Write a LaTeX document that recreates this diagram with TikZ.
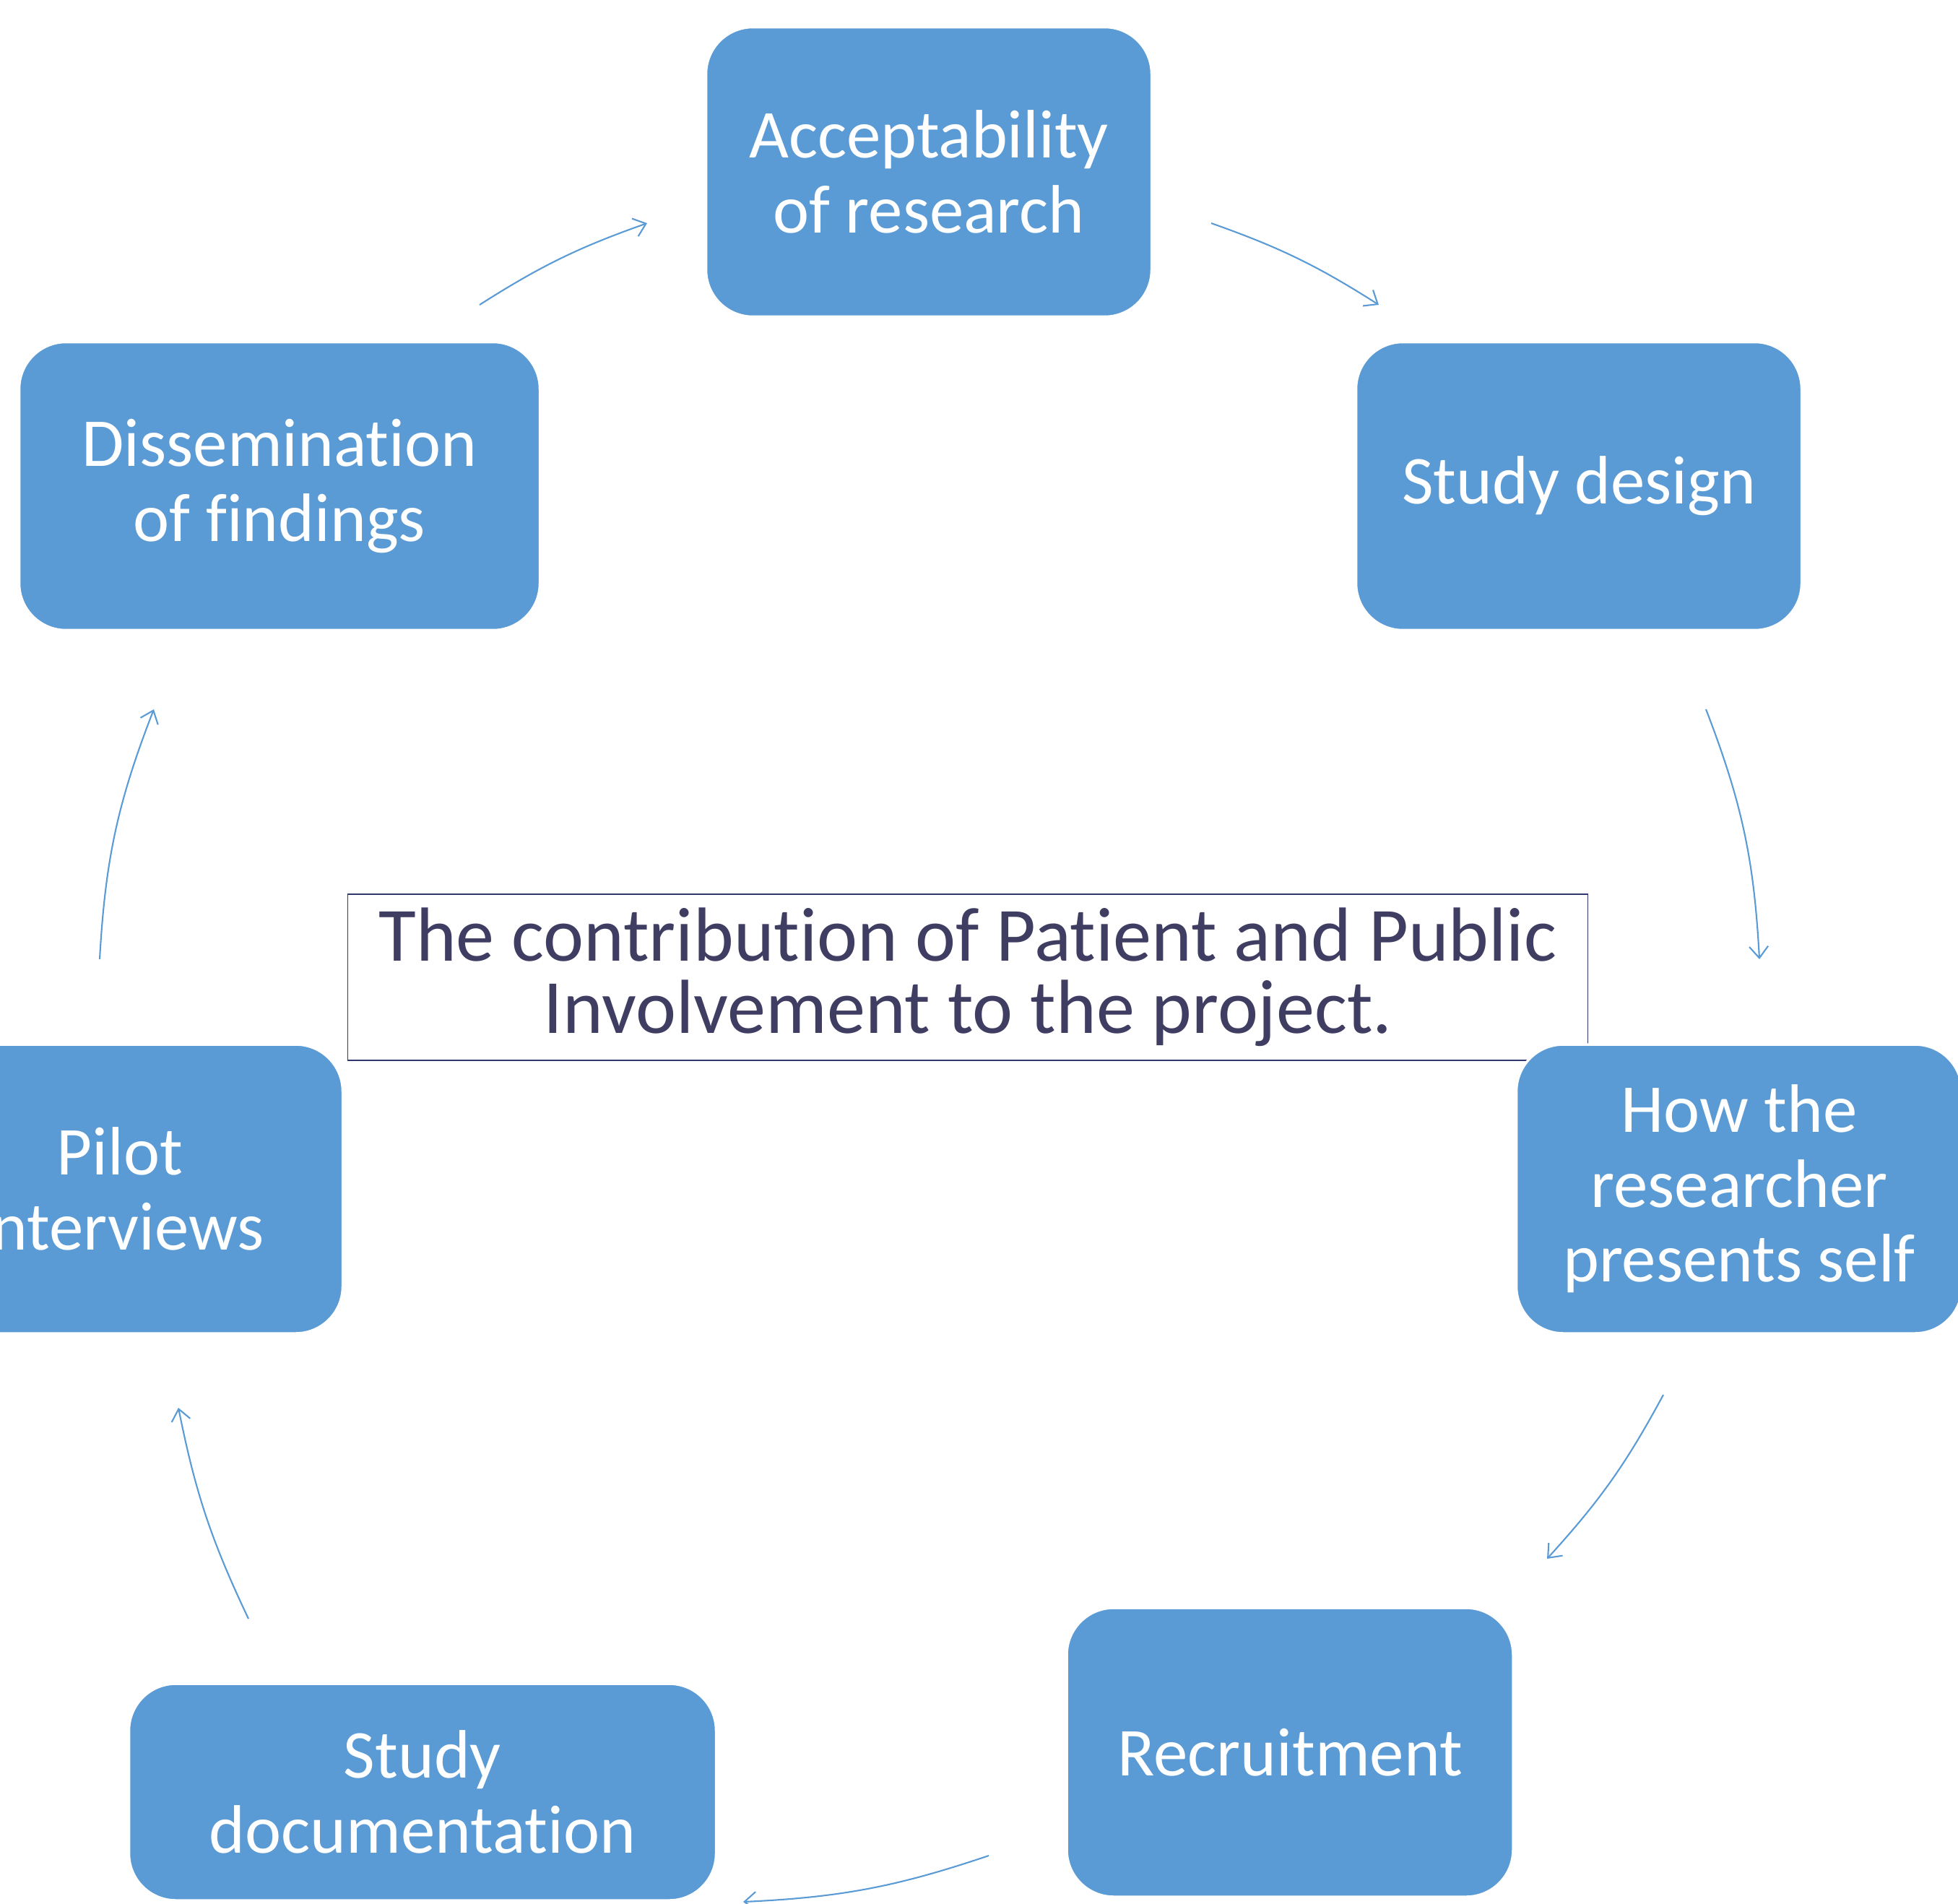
\documentclass[tikz,border=0pt]{standalone}
\usepackage{fontspec}
\setmainfont{Carlito}[Ligatures=NoCommon]
\usepackage{tikz}
\usetikzlibrary{arrows.meta,calc}

\definecolor{stepblue}{RGB}{91,155,213}
\definecolor{titleink}{RGB}{64,61,99}
\definecolor{titleline}{RGB}{47,56,110}

\begin{document}
\begin{tikzpicture}[
  stage/.style={rectangle, rounded corners=0.65cm, fill=stepblue, draw=white, line width=1pt, text=white, align=center, inner sep=0pt, font=\fontsize{27}{29.5}\selectfont},
  cyc/.style={draw=stepblue, line width=0.6pt, -{Straight Barb[length=1.6mm,width=2.6mm]}}
]
\useasboundingbox (0,0) rectangle (27.11,-26.36);
% centre box
\node[draw=titleline, line width=0.5pt, minimum width=17.17cm, minimum height=2.30cm, text=titleink, align=center, font=\fontsize{30.2}{28.5}\selectfont] (title) at (13.40,-13.53) {The contribution of Patient and Public\\Involvement to the project.};
% stages of the cycle
\node[stage, minimum width=6.17cm, minimum height=4.01cm] (accept) at (12.86,-2.38) {Acceptability\\of research};
\node[stage, minimum width=6.17cm, minimum height=3.99cm] (design) at (21.86,-6.73) {Study design};
\node[stage, minimum width=6.17cm, minimum height=4.00cm] (presents) at (24.08,-16.46) {How the\\researcher\\presents self};
\node[stage, minimum width=6.18cm, minimum height=4.00cm] (recruit) at (17.86,-24.26) {Recruitment};
\node[stage, minimum width=8.13cm, minimum height=3.00cm] (docs) at (5.85,-24.81) {Study\\documentation};
\node[stage, minimum width=6.17cm, minimum height=4.00cm] (pilot) at (1.66,-16.46) {Pilot\\interviews};
\node[stage, minimum width=7.21cm, minimum height=3.99cm] (dissem) at (3.87,-6.73) {Dissemination\\of findings};
% arrow ends
\coordinate (a1s) at (16.77,-3.09); \coordinate (a1e) at (19.09,-4.22);
\coordinate (a2s) at (23.62,-9.82); \coordinate (a2e) at (24.36,-13.28);
\coordinate (a3s) at (23.03,-19.31); \coordinate (a3e) at (21.42,-21.58);
\coordinate (a4s) at (13.69,-25.69); \coordinate (a4e) at (10.29,-26.33);
\coordinate (a5s) at (3.44,-22.41); \coordinate (a5e) at (2.47,-19.49);
\coordinate (a6s) at (1.38,-13.28); \coordinate (a6e) at (2.13,-9.82);
\coordinate (a7s) at (6.64,-4.22); \coordinate (a7e) at (8.96,-3.09);
\draw[cyc] (a1s) to[bend left=6.5] (a1e);
\draw[cyc] (a2s) to[bend left=9] (a2e);
\draw[cyc] (a3s) to[bend left=7] (a3e);
\draw[cyc] (a4s) to[bend left=8] (a4e);
\draw[cyc] (a5s) to[bend left=7] (a5e);
\draw[cyc] (a6s) to[bend left=9] (a6e);
\draw[cyc] (a7s) to[bend left=6.5] (a7e);
\end{tikzpicture}
\end{document}
